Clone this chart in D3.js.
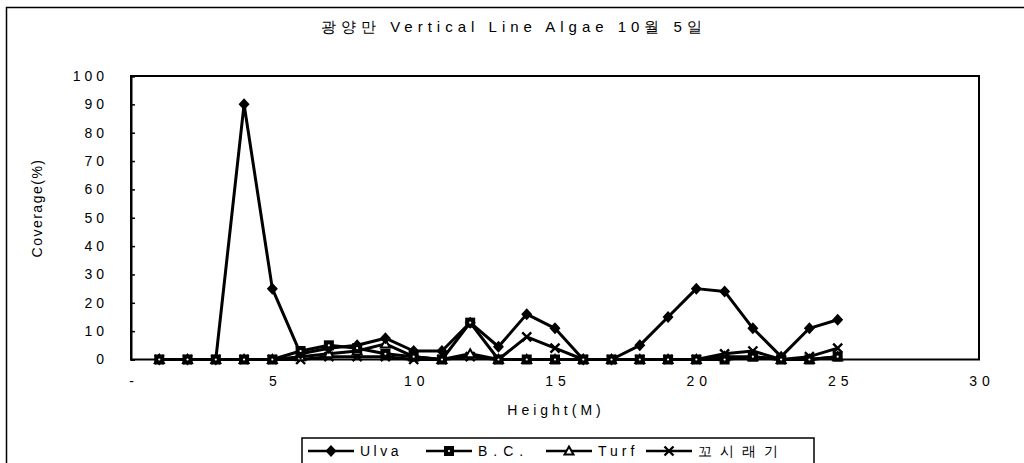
<!DOCTYPE html>
<html><head><meta charset="utf-8">
<script src="https://cdn.jsdelivr.net/npm/d3@7"></script>
<style>
html,body{margin:0;padding:0;background:#fff;}
svg{display:block;}
text{font-family:"Liberation Sans",Arial,sans-serif;fill:#000;}
</style></head>
<body>
<svg id="c" width="1024" height="463"></svg>
<script>
const heights = [1,2,3,4,5,6,7,8,9,10,11,12,13,14,15,16,17,18,19,20,21,22,23,24,25];
const ulva   = [0,0,0,90,25,2,4,5,7.5,3,3,13,4.5,16,11,0,0,5,15,25,24,11,1,11,14];
const bc     = [0,0,0,0,0,3,5,4,2,1,0,13,0,0,0,0,0,0,0,0,0,1,0,0,1];
const turf   = [0,0,0,0,0,1,2,3,5.5,1,0,2,0,0,0,0,0,0,0,0,1,1,0,0,1];
const kkosi  = [0,0,0,0,0,0,1,1,1,0,0,1,0,8,4,0,0,0,0,0,2,3,0,1,4];
const seriesNames = ["Ulva","B.C.","Turf","꼬시래기"];
const xTicks = [0,5,10,15,20,25,30];
const yTicks = [0,10,20,30,40,50,60,70,80,90,100];
const titleText = "광양만 Vertical Line Algae 10월 5일";
const xTitle = "Height(M)";
const yTitle = "Coverage(%)";

const svg = d3.select("#c");
const L = 131, R = 979, T = 76, B = 359.5;
const x = d3.scaleLinear().domain([0,30]).range([L,R]);
const y = d3.scaleLinear().domain([0,100]).range([B,T]);

// outer chart border
svg.append("rect").attr("x",6.5).attr("y",7.5).attr("width",1040).attr("height",500)
  .attr("fill","none").attr("stroke","#000").attr("stroke-width",1.5);

// title
svg.append("text").attr("x",514).attr("y",32).attr("text-anchor","middle")
  .attr("font-size",15).attr("letter-spacing",5).text(titleText);

// plot box
svg.append("rect").attr("x",L).attr("y",T).attr("width",R-L).attr("height",B-T)
  .attr("fill","none").attr("stroke","#000").attr("stroke-width",2);

// y axis
const yAxis = d3.axisRight(y).tickValues(yTicks).tickSize(4).tickFormat("");
const gy = svg.append("g").attr("transform",`translate(${L},0)`).call(yAxis);
gy.select(".domain").attr("stroke","#000").attr("stroke-width",2);
gy.selectAll(".tick line").attr("stroke","#000").attr("stroke-width",1.5);
svg.append("g").selectAll("text").data(yTicks).join("text")
  .attr("x",108).attr("y",d=>y(d)).attr("dy","0.35em").attr("text-anchor","end")
  .attr("font-size",14).attr("letter-spacing",4).text(d=>d);

// x axis labels
const xAxis = d3.axisBottom(x).tickValues(xTicks).tickSize(0).tickFormat(d=>d===0?"-":d);
const gx = svg.append("g").attr("transform",`translate(0,${B})`).call(xAxis);
gx.select(".domain").remove();
gx.selectAll(".tick text").attr("font-size",14).attr("letter-spacing",5)
  .attr("font-family","Liberation Sans,Arial,sans-serif").attr("fill","#000")
  .attr("y",17).attr("dx","2.5px");

// axis titles
svg.append("text").attr("x",556).attr("y",415).attr("text-anchor","middle")
  .attr("font-size",14).attr("letter-spacing",4).text(xTitle);
svg.append("text").attr("transform",`translate(42,208) rotate(-90)`).attr("text-anchor","middle")
  .attr("font-size",14).attr("letter-spacing",1.5).text(yTitle);

// markers
function marker(g, type, cx, cy){
  if(type===0){
    g.append("path").attr("d",`M${cx},${cy-6}L${cx+5.5},${cy}L${cx},${cy+6}L${cx-5.5},${cy}Z`).attr("fill","#000");
  } else if(type===1){
    g.append("rect").attr("x",cx-5).attr("y",cy-5).attr("width",10).attr("height",10).attr("fill","#000");
    g.append("circle").attr("cx",cx).attr("cy",cy).attr("r",1.1).attr("fill","#fff");
  } else if(type===2){
    g.append("path").attr("d",`M${cx},${cy-4.5}L${cx+4.5},${cy+3.5}L${cx-4.5},${cy+3.5}Z`)
      .attr("fill","#fff").attr("stroke","#000").attr("stroke-width",2);
  } else {
    g.append("path").attr("d",`M${cx-4.5},${cy-4.5}L${cx+4.5},${cy+4.5}M${cx-4.5},${cy+4.5}L${cx+4.5},${cy-4.5}`)
      .attr("stroke","#000").attr("stroke-width",2.4);
  }
}

const allSeries = [ulva,bc,turf,kkosi];
const line = d3.line().x((d,i)=>x(heights[i])).y(d=>y(d));
const order = [3,2,0,1];
order.forEach(si=>{
  svg.append("path").datum(allSeries[si]).attr("d",line).attr("fill","none")
    .attr("stroke","#000").attr("stroke-width",3).attr("stroke-linejoin","round");
});
order.forEach(si=>{
  const g = svg.append("g");
  allSeries[si].forEach((v,i)=>marker(g,si,x(heights[i]),y(v)));
});

// legend
const lg = svg.append("g");
lg.append("rect").attr("x",302).attr("y",438).attr("width",512).attr("height",60)
  .attr("fill","#fff").attr("stroke","#000").attr("stroke-width",1.5);
const legX = [308,426,546,646];
const legSp = [3.5,6,4,8];
seriesNames.forEach((n,i)=>{
  const lx = legX[i], ly = 451;
  lg.append("line").attr("x1",lx).attr("x2",lx+46).attr("y1",ly).attr("y2",ly)
    .attr("stroke","#000").attr("stroke-width",2.4);
  marker(lg,i,lx+23,ly);
  lg.append("text").attr("x",lx+52).attr("y",ly).attr("dy","0.35em")
    .attr("font-size",14).attr("letter-spacing",legSp[i]).text(n);
});
</script>
</body></html>
